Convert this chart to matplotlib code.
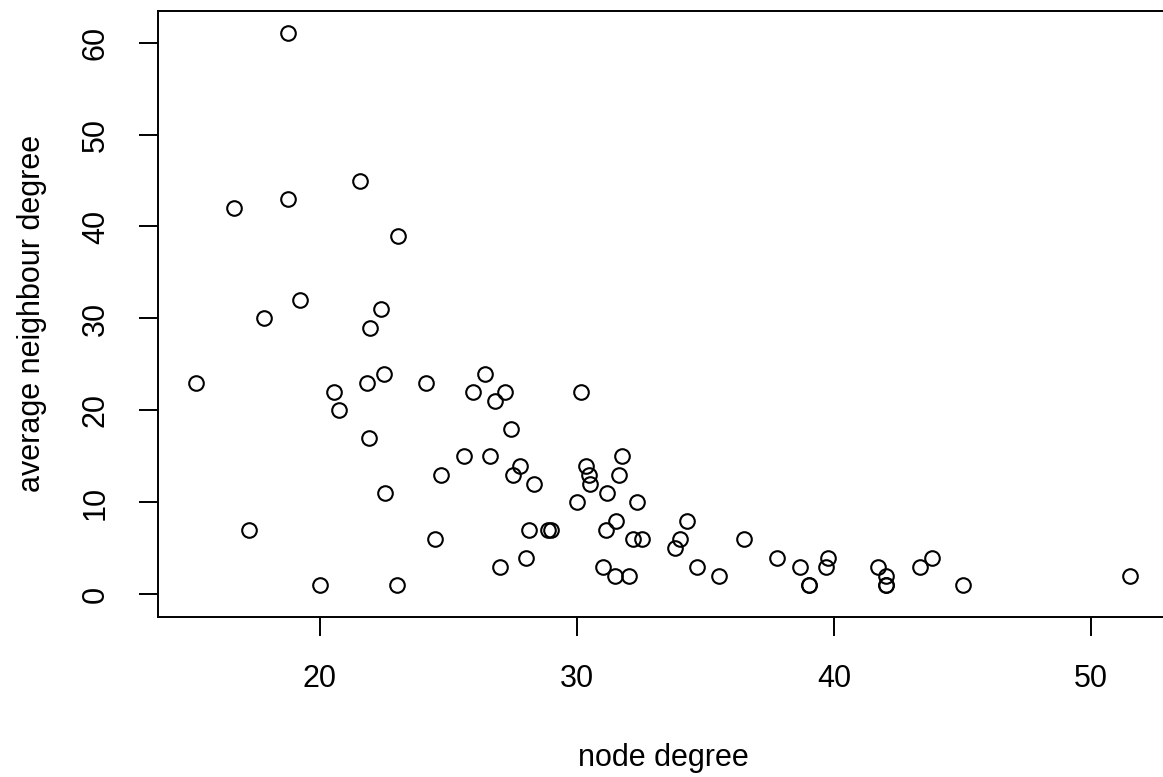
import matplotlib
matplotlib.use("Agg")
import matplotlib.pyplot as plt

# node degree vs average neighbour degree
node_degree = [
    18.75, 21.55, 16.67, 18.75, 23.05, 19.21, 17.83, 22.39, 21.95, 15.18,
    20.53, 20.74, 21.82, 22.50, 24.12, 21.92, 24.70, 22.54, 17.26, 24.49,
    19.99, 23.00, 26.42, 25.95, 27.19, 26.81, 30.14, 27.45, 25.60, 26.60,
    27.78, 27.53, 28.34, 30.36, 30.48, 30.52, 31.74, 31.63, 31.19, 30.01,
    32.32, 28.15, 28.89, 29.00, 28.00, 27.00, 31.52, 31.15, 32.17, 32.52,
    31.01, 31.50, 32.02, 34.27, 34.02, 33.81, 34.68, 35.51, 36.52, 37.78,
    38.69, 39.02, 39.02, 39.77, 39.69, 41.70, 42.02, 42.02, 42.02, 43.36,
    43.81, 45.03, 51.54,
]
avg_neighbour_degree = [
    61, 45, 42, 43, 39, 32, 30, 31, 29, 23,
    22, 20, 23, 24, 23, 17, 13, 11, 7, 6,
    1, 1, 24, 22, 22, 21, 22, 18, 15, 15,
    14, 13, 12, 14, 13, 12, 15, 13, 11, 10,
    10, 7, 7, 7, 4, 3, 8, 7, 6, 6,
    3, 2, 2, 8, 6, 5, 3, 2, 6, 4,
    3, 1, 1, 4, 3, 3, 2, 1, 1, 3,
    4, 1, 2,
]

plt.rcParams['font.family'] = ['Liberation Sans', 'DejaVu Sans']

W, H = 1163, 777
fig = plt.figure(figsize=(W / 100, H / 100), dpi=100)
# plot box in pixels: left 158, right 1168 (off canvas), top 10.5, bottom 617
ax = fig.add_axes([158 / W, (H - 617) / H, 1010 / W, 606.5 / H])

ax.plot(node_degree, avg_neighbour_degree, 'o', linestyle='none',
        markersize=10.5, markerfacecolor='none', markeredgecolor='black',
        markeredgewidth=1.5, clip_on=False)

ax.set_xlim(13.70, 53.0)
ax.set_ylim(-2.45, 63.48)
ax.set_xticks([20, 30, 40, 50])
ax.set_yticks([0, 10, 20, 30, 40, 50, 60])

for s in ax.spines.values():
    s.set_linewidth(1.4)
ax.tick_params(direction='out', length=14, width=1.4, pad=18, labelsize=22)
ax.tick_params(axis='x', pad=20)
ax.tick_params(axis='y', pad=20)
plt.setp(ax.get_yticklabels(), rotation=90, va='center')

fig.text(663.5 / W, (H - 766) / H, "node degree", ha='center', va='baseline',
         fontsize=22)
fig.text(32 / W, (H - 313.75) / H, "average neighbour degree", rotation=90,
         ha='center', va='center', fontsize=22)

fig.savefig("out.png", dpi=100)
